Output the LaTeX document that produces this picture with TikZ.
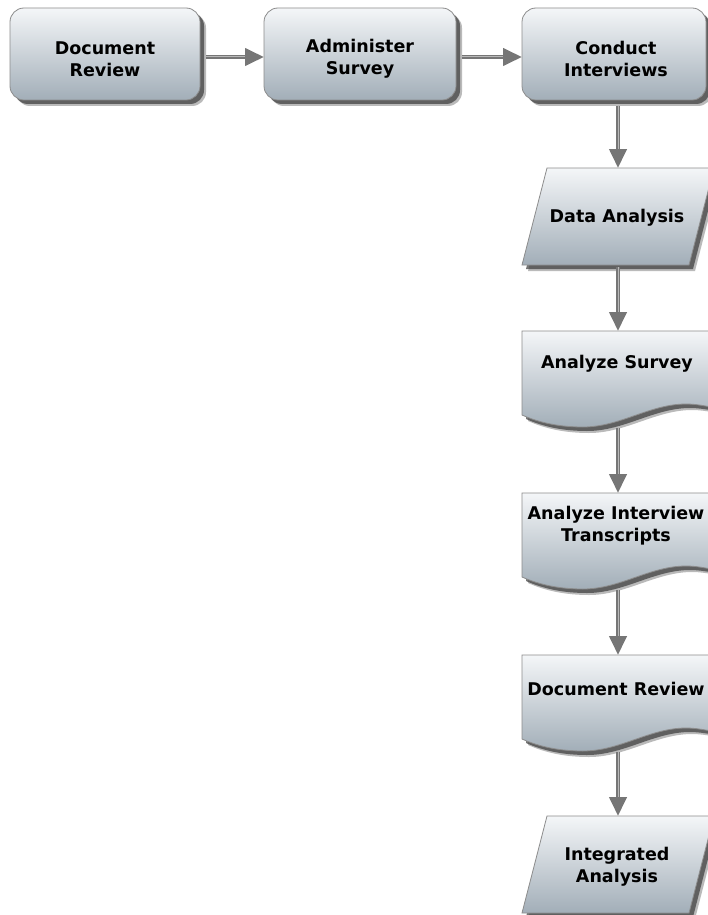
\documentclass[tikz,border=0pt]{standalone}
\usepackage{fontspec}
\setmainfont{DejaVu Sans}
\usetikzlibrary{arrows.meta}
\definecolor{topc}{HTML}{F4F6F8}
\definecolor{botc}{HTML}{A2AEB8}
\definecolor{edgec}{HTML}{8C8C8C}
\definecolor{shadc}{HTML}{3A3A3A}
\definecolor{arrc}{HTML}{767676}
\definecolor{arrlight}{HTML}{B8B8B8}
\newcommand\docpath{(522,0) -- (716,0) -- (716,77) .. controls (706,75) and (696,73) .. (686,73) .. controls (650,73) and (620,96) .. (583,96) .. controls (560,96) and (540,92) .. (522,84) -- cycle}
\newcommand\parapath{(547,0) -- (714,0) -- (689,97) -- (522,97) -- cycle}
\begin{document}
\begin{tikzpicture}[x=1pt,y=-1pt,
  shapefill/.style={top color=topc, bottom color=botc, draw=edgec, line width=0.8pt},
  shadA/.style={fill=shadc, opacity=0.35},
  shadB/.style={fill=shadc, opacity=0.7},
  lbl/.style={font=\fontsize{17.5}{22}\selectfont\bfseries, align=center, text=black, inner sep=0pt},
  conn/.style={draw=arrc, line width=4pt, -{Triangle[length=19pt,width=17pt]}},
  connhi/.style={draw=arrlight, line width=1pt, shorten >=19pt}
]
\useasboundingbox (0,0) rectangle (708,915);
\clip (0,0) rectangle (708,915);
\fill[white] (0,0) rectangle (708,915);

% rounded boxes
\foreach \xa/\xb in {10/200, 264/456, 522/706}{
  \path[shadA, rounded corners=14pt] (\xa+6,14) rectangle (\xb+6,106);
  \path[shadB, rounded corners=14pt] (\xa+4,12) rectangle (\xb+4,104);
  \path[shapefill, rounded corners=14pt] (\xa,8) rectangle (\xb,100);
}
\node[lbl] (b1) at (105,59) {Document\\Review};
\node[lbl] (b2) at (360,59) {Administer\\Survey};
\node[lbl] (b3) at (616,59) {Conduct\\Interviews};

% parallelograms
\foreach \t in {168, 816}{
  \begin{scope}[yshift=-\t pt]
    \path[shadA] [xshift=6pt,yshift=-6pt] \parapath;
    \path[shadB] [xshift=4pt,yshift=-4pt] \parapath;
    \path[shapefill] \parapath;
  \end{scope}
}
\node[lbl] (da) at (617,218) {Data Analysis};
\node[lbl] (ia) at (617,867) {Integrated\\Analysis};

% document shapes
\foreach \t in {331, 493, 655}{
  \begin{scope}[yshift=-\t pt]
    \path[shadA] [xshift=6pt,yshift=-6pt] \docpath;
    \path[shadB] [xshift=4pt,yshift=-4pt] \docpath;
    \path[shapefill] \docpath;
  \end{scope}
}
\node[lbl] (as) at (617,364) {Analyze Survey};
\node[lbl] (ai) at (616,526) {Analyze Interview\\Transcripts};
\node[lbl] (dr) at (616,689) {Document Review};

% connector end points
\coordinate (b1e) at (206,57);
\coordinate (b2w) at (264,57);
\coordinate (b2e) at (462,57);
\coordinate (b3w) at (522,57);
\coordinate (b3s) at (618,106);
\coordinate (dan) at (618,168);
\coordinate (das) at (618,267);
\coordinate (asn) at (618,331);
\coordinate (ass) at (618,428);
\coordinate (ain) at (618,493);
\coordinate (ais) at (618,590);
\coordinate (drn) at (618,655);
\coordinate (drs) at (618,752);
\coordinate (ian) at (618,816);

\foreach \a/\b in {b1e/b2w, b2e/b3w, b3s/dan, das/asn, ass/ain, ais/drn, drs/ian}{
  \draw[conn] (\a) -- (\b);
  \draw[connhi] (\a) -- (\b);
}
\end{tikzpicture}
\end{document}
